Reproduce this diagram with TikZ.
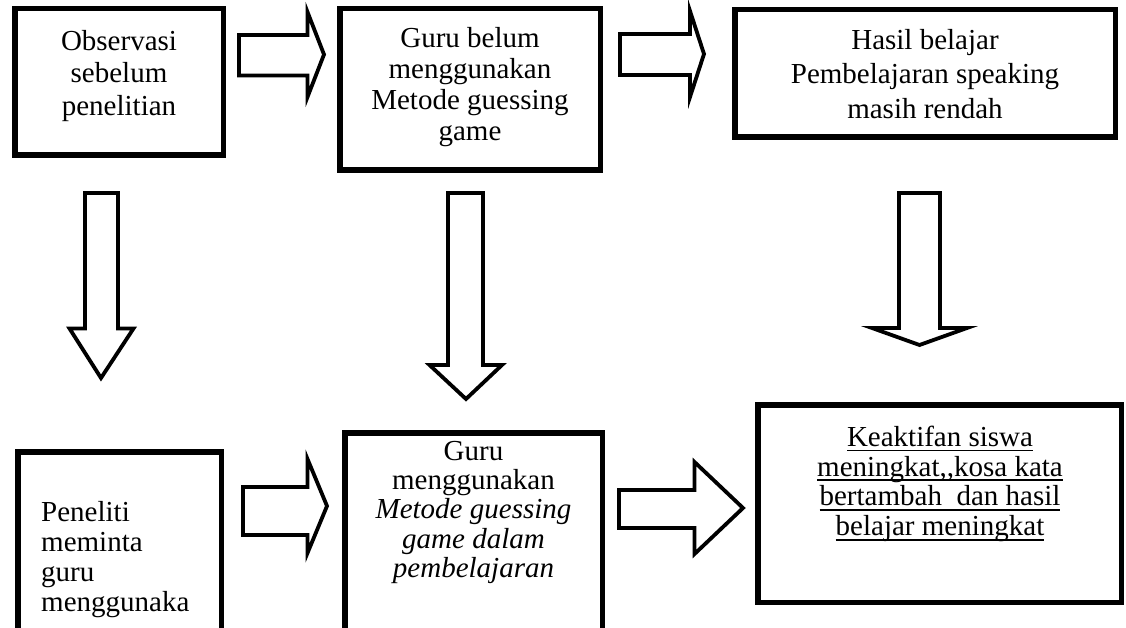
\documentclass[tikz,border=0pt]{standalone}
\usepackage{fontspec}
\setmainfont{Liberation Serif}
\newcommand\fst{\rule{0pt}{22pt}}
\newcommand\myul[1]{\setbox0\hbox{#1}%
  \rlap{\rule[-5pt]{\wd0}{1.7pt}}\box0}
\begin{document}
\begin{tikzpicture}[x=1pt,y=-1pt,
  box/.style={draw, line width=5.5pt, inner sep=0pt, outer sep=0pt},
  txt/.style={inner sep=0pt, align=center},
  blk/.style={draw, line width=3.8pt, fill=white, line join=miter, miter limit=10}]
\useasboundingbox (0,0) rectangle (1126,628);
\clip (0,0) rectangle (1126,628);
% boxes
\node[box, minimum width=208.5pt, minimum height=146.5pt] (b1) at (119,82) {};
\node[box, minimum width=260.5pt, minimum height=161.5pt] (b2) at (470,89.5) {};
\node[box, minimum width=380.5pt, minimum height=127.5pt] (b3) at (925,73.5) {};
\node[box, minimum width=203.5pt, minimum height=185.5pt] (b4) at (119.5,544.5) {};
\node[box, minimum width=257.5pt, minimum height=204.5pt] (b5) at (473.5,535) {};
\node[box, minimum width=363.5pt, minimum height=197.5pt] (b6) at (939.5,503.5) {};
% texts
\node[txt, anchor=north, font=\fontsize{29}{32.5}\selectfont] (t1) at (119,28)
  {\fst Observasi\\sebelum\\penelitian};
\node[txt, anchor=north, font=\fontsize{29}{31}\selectfont] (t2) at (470,25)
  {\fst Guru belum\\menggunakan\\Metode guessing\\game};
\node[txt, anchor=north, font=\fontsize{29}{34.5}\selectfont] (t3) at (925,27)
  {\fst Hasil belajar\\Pembelajaran speaking\\masih rendah};
\node[txt, align=left, anchor=north west, font=\fontsize{29}{30}\selectfont] (t4) at (41,499)
  {\fst Peneliti\\meminta\\guru\\menggunaka};
\node[txt, anchor=north, font=\fontsize{29}{29.3}\selectfont] (t5) at (473.5,438)
  {\fst Guru\\menggunakan\\\textit{Metode guessing}\\\textit{game dalam}\\\textit{pembelajaran}};
\node[txt, anchor=north, font=\fontsize{29}{29.8}\selectfont] (t6) at (940,424)
  {\fst\myul{Keaktifan siswa}\\\myul{meningkat,{},kosa kata}\\\myul{bertambah\ \ dan hasil}\\\myul{belajar meningkat}};
% right block arrows
\draw[blk] (239,35) -- (307.5,35) -- (307.5,12) -- (324,54.5) -- (307.5,97) -- (307.5,75.5) -- (239,75.5) -- cycle;
\draw[blk] (620,34) -- (690,34) -- (690,11) -- (704,54) -- (690,97) -- (690,75) -- (620,75) -- cycle;
\draw[blk] (243,487) -- (307.5,487) -- (307.5,459) -- (327,506) -- (307.5,553) -- (307.5,535) -- (243,535) -- cycle;
\draw[blk] (619,490) -- (694.5,490) -- (694.5,462) -- (743,508) -- (694.5,554) -- (694.5,528) -- (619,528) -- cycle;
% down block arrows
\draw[blk] (85,193) -- (118,193) -- (118,328.5) -- (133.5,328.5) -- (101,378) -- (69.5,328.5) -- (85,328.5) -- cycle;
\draw[blk] (448,193) -- (483,193) -- (483,365) -- (502,365) -- (466,399) -- (429.5,365) -- (448,365) -- cycle;
\draw[blk] (899,193) -- (940,193) -- (940,328) -- (967,328) -- (919.5,345) -- (872,328) -- (899,328) -- cycle;
\end{tikzpicture}
\end{document}
